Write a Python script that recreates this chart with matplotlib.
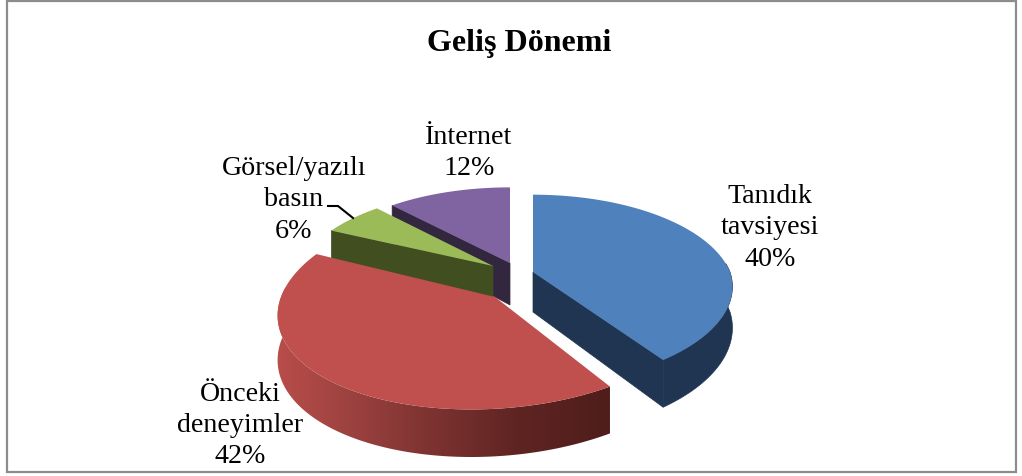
import numpy as np
import matplotlib
matplotlib.use("Agg")
import matplotlib.pyplot as plt
from matplotlib.colors import to_rgb

plt.rcParams['font.family'] = ['Liberation Serif', 'DejaVu Serif']

title = "Geliş Dönemi"
labels = ["Tanıdık\ntavsiyesi", "Önceki\ndeneyimler", "Görsel/yazılı\nbasın", "İnternet"]
values = [40, 42, 6, 12]

top_colors = ["#4f81bd", "#c0504d", "#9bbb59", "#8064a2"]
side_colors = ["#1f3552", "#4f1d1b", "#414f20", "#32273f"]

# slice geometry in pixels: apex x, apex y, radius x, radius y, perspective, depth
shape = [
    (533, 272, 197, 92, 0.19, 40),
    (495, 297, 214, 104, 0.075, 44),
    (493, 266, 193, 90, 0.19, 38),
    (510, 263, 196, 90, 0.19, 42),
]
skew = [-7, -22, 0, 0]
label_pos = [(770, 228), (240, 425.5), (294, 200), (469, 153)]

fig = plt.figure(figsize=(10.22, 4.76), dpi=100)
ax = fig.add_axes([0, 0, 1, 1])
ax.axis('off')

ax.add_patch(plt.Rectangle((7, 1), 1009, 471, fill=False, edgecolor="#8c8c8c", linewidth=1.6))


def project(i, theta):
    ax0, ay0, rx, ry, k, d = shape[i]
    x = np.sin(theta)
    y = -np.cos(theta)
    s = 1 / (1 - k * y)
    # the blue slice only leans on its near half
    lean = np.maximum(y, 0) if i == 0 else y
    return ax0 + s * (rx * x + skew[i] * lean), ay0 + s * ry * y, d * s


# angles from the values, clockwise from the top
ends = np.cumsum(values) / sum(values) * 2 * np.pi
starts = np.r_[0, ends[:-1]]

# red wall gradient, left to right
grad_x = np.linspace(270, 620, 350)
grad_stops = [278, 350, 430, 520, 611]
grad_cols = [to_rgb(c) for c in ["#b84d4a", "#9c4240", "#7d3331", "#5e2422", "#4f1d1b"]]
grad = np.array([[np.interp(grad_x, grad_stops, [c[n] for c in grad_cols]) for n in range(3)]])
grad = np.transpose(grad, (0, 2, 1))

zorders = {3: 2, 2: 3, 0: 5, 1: 5}
for i in [3, 2, 0, 1]:
    ax0, ay0, rx, ry, k, d = shape[i]
    z = zorders[i]
    t = np.linspace(starts[i], ends[i], 200)
    px, py, pd = project(i, t)

    # flat cut face: start edge for green and purple, end edge for blue
    if i in (2, 3):
        ax.fill([ax0, px[0], px[0], ax0], [ay0, py[0], py[0] + pd[0], ay0 + d],
                color=side_colors[i], lw=0.5, zorder=z)
    if i == 0:
        ax.fill([ax0, px[-1], px[-1], ax0], [ay0, py[-1], py[-1] + pd[-1], ay0 + d],
                color=side_colors[i], lw=0.5, zorder=z)

    # outer wall, only the part facing the viewer
    if i in (0, 1):
        near = -np.cos(t) >= -0.1
        wall_x = np.r_[px[near], px[near][::-1]]
        wall_y = np.r_[py[near], (py + pd)[near][::-1]]
        if i == 1:
            wall = ax.fill(wall_x, wall_y, color="none", lw=0, zorder=z)[0]
            im = ax.imshow(grad, extent=(270, 620, 476, 0), aspect='auto', zorder=z)
            im.set_clip_path(wall)
        else:
            ax.fill(wall_x, wall_y, color=side_colors[i], lw=0.5, zorder=z)

    # top surface
    ax.fill(np.r_[ax0, px], np.r_[ay0, py], color=top_colors[i], lw=0, zorder=z + 0.5)

ax.set_xlim(0, 1022)
ax.set_ylim(476, 0)

for i in range(4):
    ax.text(label_pos[i][0], label_pos[i][1], "%s\n%d%%" % (labels[i], values[i]),
            ha='center', va='center', fontsize=20.2, linespacing=1.32, color="#000000", zorder=10)

ax.plot([328, 338, 353], [206, 206, 218], color="black", lw=1.5, zorder=10)

ax.text(519, 44, title, ha='center', va='center', fontsize=23, fontweight='bold', color="black")

plt.savefig("out.png", dpi=100)
